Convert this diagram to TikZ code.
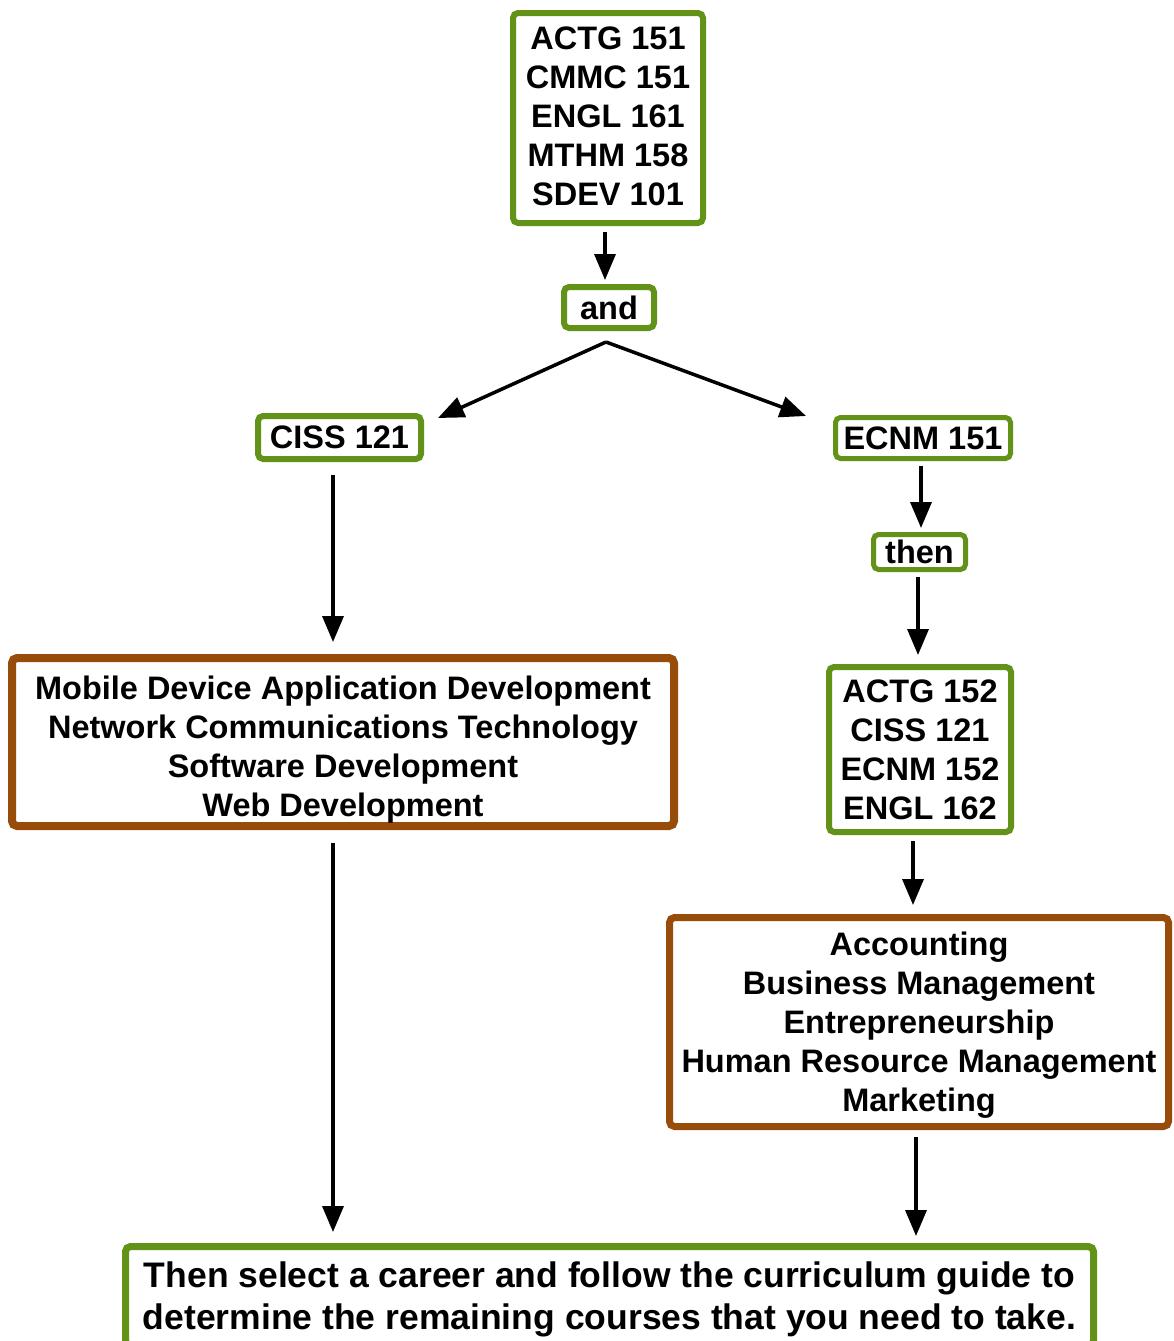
\documentclass[tikz,border=0pt]{standalone}
\usepackage{fontspec}
\setmainfont{Liberation Sans}
\usetikzlibrary{arrows.meta}
\definecolor{boxgreen}{RGB}{98,146,24}
\definecolor{boxbrown}{RGB}{152,76,10}
\newcommand{\topstrut}[1]{\rule{0pt}{#1}}
\newcommand{\botstrut}[1]{\rule[-#1]{0pt}{#1}}
\tikzset{
  gbox/.style={draw=boxgreen, line width=6pt, rounded corners=5pt, fill=white,
    align=center, inner sep=0pt, font=\fontsize{32.5}{39}\selectfont\bfseries},
  bbox/.style={draw=boxbrown, line width=8pt, rounded corners=5pt, fill=white,
    align=center, inner sep=0pt, font=\fontsize{32.5}{39}\selectfont\bfseries},
  arr/.style={line width=3.5pt, -{Triangle[length=26pt,width=21pt]}}
}
\begin{document}
\begin{tikzpicture}[x=1pt,y=-1pt]
\useasboundingbox[fill=white] (0,0) rectangle (1174,1341);
\node[gbox, minimum width=190pt, minimum height=210pt] (top) at (608,118)
  {ACTG 151\\CMMC 151\\ENGL 161\\MTHM 158\\SDEV 101\botstrut{4pt}};
\node[gbox, minimum width=90pt, minimum height=41pt] (and) at (609,307.5) {and};
\node[gbox, minimum width=163pt, minimum height=43pt] (ciss) at (339.5,437.5) {CISS 121};
\node[gbox, line width=5pt, minimum width=175pt, minimum height=41pt] (ecnm) at (923,438) {ECNM 151};
\node[gbox, line width=5pt, minimum width=92pt, minimum height=35pt] (then) at (919.5,552) {then};
\node[bbox, minimum width=662pt, minimum height=168pt] (mob) at (343,742)
  {\topstrut{38pt}Mobile Device Application Development\\Network Communications Technology\\Software Development\\Web Development};
\node[gbox, minimum width=182pt, minimum height=165pt] (actg) at (920,749.5)
  {ACTG 152\\CISS 121\\ECNM 152\\ENGL 162};
\node[bbox, line width=7pt, minimum width=499pt, minimum height=209pt] (acc) at (919,1022)
  {\topstrut{30pt}Accounting\\Business Management\\Entrepreneurship\\Human Resource Management\\Marketing};
\node[gbox, line width=7pt, minimum width=968pt, minimum height=99pt,
  font=\fontsize{35.5}{42}\selectfont\bfseries] (bot) at (609.5,1296)
  {\topstrut{32pt}Then select a career and follow the curriculum guide to\\determine the remaining courses that you need to take.};

\draw[arr] ([xshift=-3pt,yshift=-6pt]top.south) -- ([xshift=-4pt,yshift=4pt]and.north);
\coordinate (split) at ([xshift=-3pt,yshift=-11pt]and.south);
\draw[arr] (split) -- ([xshift=14pt,yshift=-5pt]ciss.north east);
\draw[arr] (split) -- ([xshift=-27pt,yshift=-1pt]ecnm.north west);
\draw[arr] ([xshift=-6.5pt,yshift=-13pt]ciss.south) -- ([xshift=-10pt,yshift=12pt]mob.north);
\draw[arr] ([xshift=-2pt,yshift=-5pt]ecnm.south) -- ([xshift=1.5pt,yshift=4pt]then.north);
\draw[arr] ([xshift=-1.5pt,yshift=-5pt]then.south) -- ([xshift=-2pt,yshift=9pt]actg.north);
\coordinate (m1) at ([xshift=-10pt,yshift=-13pt]mob.south);
\path (m1 |- bot.north) coordinate (m2);
\draw[arr] (m1) -- ([yshift=11pt]m2);
\draw[arr] ([xshift=-7pt,yshift=-6pt]actg.south) -- ([xshift=-6pt,yshift=9pt]acc.north);
\coordinate (a1) at ([xshift=-3pt,yshift=-7pt]acc.south);
\path (a1 |- bot.north) coordinate (a2);
\draw[arr] (a1) -- ([yshift=7pt]a2);
\end{tikzpicture}
\end{document}
